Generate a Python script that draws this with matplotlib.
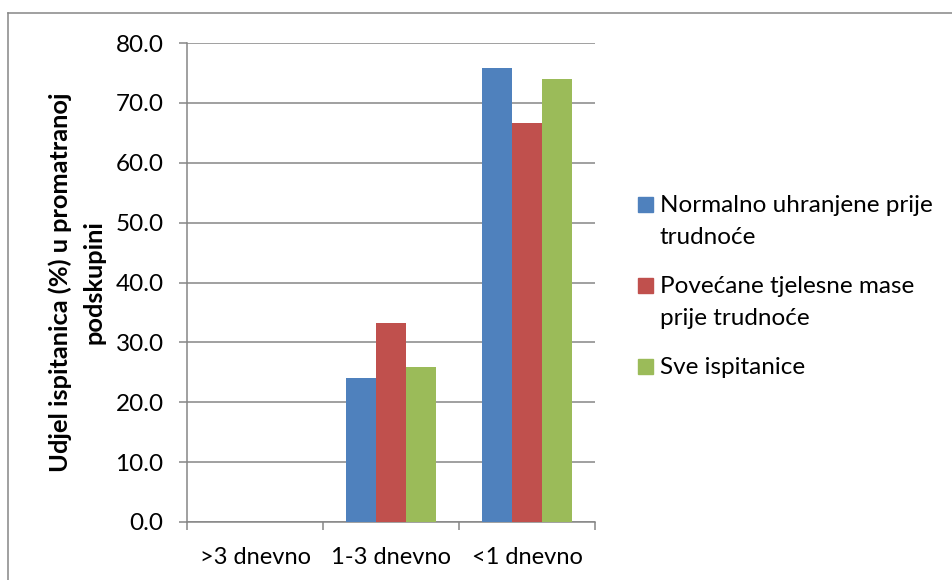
import matplotlib.pyplot as plt
import numpy as np
from matplotlib.lines import Line2D
from matplotlib.patches import Rectangle

plt.rcParams['font.family'] = ['Lato', 'DejaVu Sans']

categories = ['>3 dnevno', '1-3 dnevno', '<1 dnevno']
normalno = [0.0, 24.0, 75.9]
povecane = [0.0, 33.3, 66.7]
sve = [0.0, 25.9, 74.0]

series_labels = ['Normalno uhranjene prije\ntrudnoće',
                 'Povećane tjelesne mase\nprije trudnoće',
                 'Sve ispitanice']
series_colors = ['#4F81BD', '#C0504D', '#9BBB59']
y_ticks = np.arange(0, 81, 10)
y_title = ['Udjel ispitanica (%) u promatranoj', 'podskupini']

W, H = 953, 580
GRAY = '#868686'
FS = 17.5


def px(x, y):
    # pixel position (from top-left) to figure fraction
    return x / W, 1 - y / H


def plot():
    fig = plt.figure(figsize=(W / 100, H / 100), dpi=100)
    left, bottom = px(187, 522)
    right, top = px(595, 43)
    ax = fig.add_axes([left, bottom, right - left, top - bottom])

    width = 1 / 4.5
    x = np.arange(len(categories))
    for i, (vals, color) in enumerate(zip([normalno, povecane, sve], series_colors)):
        ax.bar(x + (i - 1) * width, vals, width, color=color, zorder=3)

    ax.set_xlim(-0.5, len(categories) - 0.5)
    ax.set_ylim(0, 80)
    ax.set_yticks(y_ticks)
    ax.set_yticklabels([f'{v:.1f}' for v in y_ticks])
    ax.set_xticks(np.arange(len(categories) + 1) - 0.5)
    ax.set_xticklabels([])
    ax.set_xticks(x, minor=True)
    ax.set_xticklabels(categories, minor=True)

    ax.grid(axis='y', color=GRAY, linewidth=1.1, zorder=0)
    for s in ['top', 'right']:
        ax.spines[s].set_visible(False)
    for s in ['left', 'bottom']:
        ax.spines[s].set_color(GRAY)
        ax.spines[s].set_linewidth(1.1)
    ax.tick_params(axis='y', length=5.8, width=1.1, color=GRAY, pad=11, labelsize=FS)
    ax.tick_params(axis='x', which='major', length=5.8, width=1.1, color=GRAY)
    ax.tick_params(axis='x', which='minor', length=0, pad=18, labelsize=FS - 0.5)

    # y axis title, one text per line
    for j, line in enumerate(y_title):
        lx, ly = px(60 + j * 34, 282)
        fig.text(lx, ly, line, rotation=90, ha='center', va='center',
                 fontsize=FS + 0.8, fontweight='bold')

    # legend
    base = 212
    for label, color in zip(series_labels, series_colors):
        lines = label.split('\n')
        sx, sy = px(638, base)
        fig.add_artist(Rectangle((sx, sy), 15 / W, 15 / H, color=color,
                                 transform=fig.transFigure))
        for j, line in enumerate(lines):
            tx, ty = px(660, base + j * 32)
            fig.text(tx, ty, line, ha='left', va='baseline', fontsize=FS)
        base += len(lines) * 32 + 17

    # outer frame
    fig.add_artist(Line2D([8 / W, 8 / W], [0, 1 - 13 / H], color=GRAY,
                          linewidth=1.1, transform=fig.transFigure))
    fig.add_artist(Line2D([8 / W, 1], [1 - 13 / H, 1 - 13 / H], color=GRAY,
                          linewidth=1.1, transform=fig.transFigure))

    fig.savefig('out.png', dpi=100)


if __name__ == '__main__':
    plot()
